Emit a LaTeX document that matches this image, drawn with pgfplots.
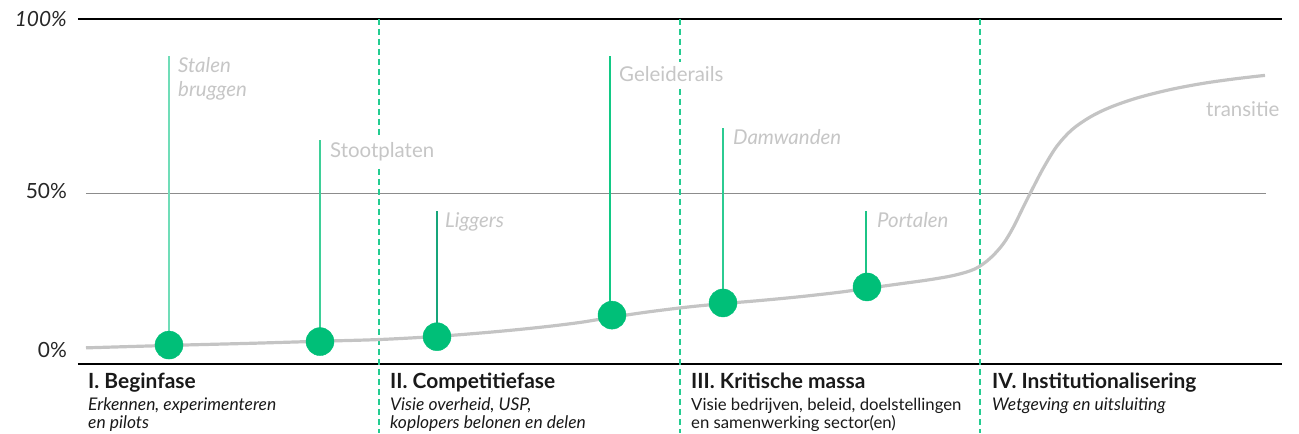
\documentclass[border=0pt]{standalone}
\usepackage{pgfplots}
\pgfplotsset{compat=1.18}
\usepackage{fontspec}
\setmainfont{Lato}
\definecolor{mgreen}{HTML}{00BF78}
\definecolor{dgreen}{HTML}{22CC90}
\definecolor{cgray}{HTML}{C4C4C4}
\definecolor{lgray}{HTML}{C6C6C6}
\definecolor{sA}{HTML}{70DDB8}
\definecolor{sB}{HTML}{3ECF98}
\definecolor{sC}{HTML}{17A57A}
\definecolor{sD}{HTML}{12C985}
\definecolor{sE}{HTML}{2CCB92}
\definecolor{sF}{HTML}{1CC486}
\begin{document}
\begin{tikzpicture}
\begin{axis}[
  scale only axis, width=1204bp, height=345bp,
  xmin=78, xmax=1282, ymin=0.86, ymax=100,
  axis line style={draw=none},
  major tick length=0pt,
  xtick=\empty,
  ytick={4.9,50.6,100},
  yticklabels={0\%,50\%,\itshape 100\%},
  /pgf/number format/assume math mode=true,
  yticklabel style={font=\fontsize{21}{24}\selectfont, anchor=east, inner sep=0pt, xshift=-11bp, text=black!85},
  clip=false,
]
% frame lines
\addplot[black, line width=1.4bp] coordinates {(78,100) (1282,100)};
\addplot[black, line width=1.4bp] coordinates {(78,0.86) (1282,0.86)};
\addplot[black!45, line width=0.8bp] coordinates {(86,50) (1266,50)};
% phase dividers
\addplot[dgreen, line width=1.2bp, dash pattern=on 6bp off 4bp] coordinates {(379,100) (379,-19)};
\addplot[dgreen, line width=1.2bp, dash pattern=on 6bp off 4bp] coordinates {(680,100) (680,-19)};
\addplot[dgreen, line width=1.2bp, dash pattern=on 6bp off 4bp] coordinates {(980,100) (980,-19)};
% transition curve
\addplot[cgray, line width=3.2bp, smooth, tension=0.55] coordinates {
(86,5.5) (169,6.2) (250,6.8) (320,7.4) (380,7.9) (437,8.8) (490,10.0) (540,11.4) (580,12.8)
(612,14.3) (650,15.9) (690,17.3) (723,18.2) (760,19.1) (800,20.2) (840,21.5) (867,22.6) (900,23.9) (930,25.1) (955,26.4)
(975,28.2) (990,31.2) (1003,35.3) (1013,40.0) (1023,45.8) (1033,51.5) (1044,57.5) (1057,63.5) (1072,68.2)
(1090,71.8) (1110,74.6) (1137,77.3) (1170,79.7) (1203,81.5) (1235,82.8) (1265,83.8)};
% stems
\addplot[sA, line width=1.6bp] coordinates {(169,6.3) (169,89.4)};
\addplot[sB, line width=1.6bp] coordinates {(320,7.3) (320,65.2)};
\addplot[sC, line width=1.6bp] coordinates {(437,8.7) (437,44.8)};
\addplot[sD, line width=1.6bp] coordinates {(610,14.9) (610,89.4)};
\addplot[sE, line width=1.6bp] coordinates {(723,18.4) (723,68.7)};
\addplot[sF, line width=1.6bp] coordinates {(866,23.0) (866,44.8)};
% markers
\addplot[mgreen, only marks, mark=*, mark size=14bp, mark options={fill=mgreen, draw=none}] coordinates {
(169,6.3) (320,7.3) (437,8.7) (612,14.9) (723,18.4) (867,23.0)};
% labels
\begin{scope}[every node/.style={text=lgray, font=\fontsize{20.5}{24}\selectfont, inner xsep=0pt, inner ysep=5bp, fill=white, anchor=base west}]
\node at (axis cs:178,84.5) {\itshape Stalen};
\node at (axis cs:178,77.6) {\itshape bruggen};
\node at (axis cs:330,60.1) {Stootplaten};
\node at (axis cs:445,40.2) {\itshape Liggers};
\node at (axis cs:619,81.9) {Geleiderails};
\node at (axis cs:733,63.8) {\itshape Damwanden};
\node at (axis cs:877,40.2) {\itshape Portalen};
\node at (axis cs:1206,72.1) {transitie};
\end{scope}
\begin{scope}[every node/.style={text=black!90, inner sep=0pt, anchor=base west}]
\node[font=\fontsize{21}{24}\selectfont\bfseries] at (axis cs:88,-6.3) {I. Beginfase};
\node[font=\fontsize{17.5}{20}\selectfont\itshape] at (axis cs:88,-12.4) {Erkennen, experimenteren};
\node[font=\fontsize{17.5}{20}\selectfont\itshape] at (axis cs:88,-17.8) {en pilots};
\node[font=\fontsize{21}{24}\selectfont\bfseries] at (axis cs:390,-6.3) {II. Competitiefase};
\node[font=\fontsize{17.5}{20}\selectfont\itshape] at (axis cs:390,-12.4) {Visie overheid, USP,};
\node[font=\fontsize{17.5}{20}\selectfont\itshape] at (axis cs:390,-17.8) {koplopers belonen en delen};
\node[font=\fontsize{21}{24}\selectfont\bfseries] at (axis cs:691,-6.3) {III. Kritische massa};
\node[font=\fontsize{16.8}{20}\selectfont] at (axis cs:691,-12.4) {Visie bedrijven, beleid, doelstellingen};
\node[font=\fontsize{16.8}{20}\selectfont] at (axis cs:691,-17.8) {en samenwerking sector(en)};
\node[font=\fontsize{21}{24}\selectfont\bfseries] at (axis cs:992,-6.3) {IV. Institutionalisering};
\node[font=\fontsize{17.5}{20}\selectfont\itshape] at (axis cs:992,-12.4) {Wetgeving en uitsluiting};
\end{scope}
\coordinate (bbl) at (axis cs:0,-19.25);
\coordinate (btr) at (axis cs:1299,105.46);
\end{axis}
\pgfresetboundingbox
\path[use as bounding box] (bbl) rectangle (btr);
\end{tikzpicture}
\end{document}
